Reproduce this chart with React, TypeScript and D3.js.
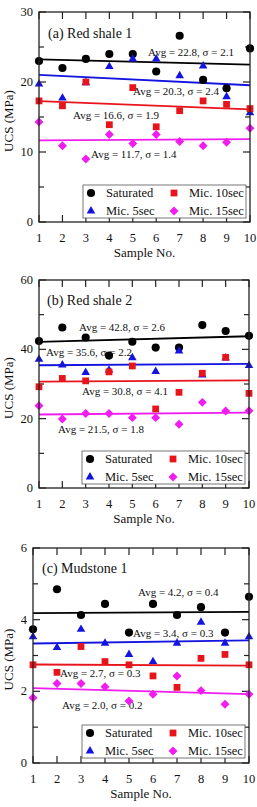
import * as d3 from "d3";

const samples = d3.range(1, 11);
const seriesNames = ["Saturated", "Mic. 5sec", "Mic. 10sec", "Mic. 15sec"];
const seriesColors = ["#000000", "#1414e0", "#e8141c", "#f01cf0"];

// (a) Red shale 1
const rs1Saturated = [23.0, 22.0, 23.3, 24.0, 24.0, 21.5, 26.6, 20.3, 19.1, 24.8];
const rs1Mic5 = [19.7, 17.7, 19.9, 22.2, 23.3, 23.3, 20.9, 22.3, 17.9, 15.6];
const rs1Mic10 = [17.3, 16.6, 20.0, 13.9, 19.2, 13.6, 15.9, 17.3, 16.8, 16.2];
const rs1Mic15 = [14.3, 10.9, 9.0, 12.5, 11.2, 12.5, 11.5, 10.9, 11.4, 13.4];
const rs1Avg = [22.8, 20.3, 16.6, 11.7];
const rs1Sd = [2.1, 2.4, 1.9, 1.4];

// (b) Red shale 2
const rs2Saturated = [42.4, 46.3, 43.4, 38.2, 42.2, 40.5, 40.5, 47.0, 45.3, 43.9];
const rs2Mic5 = [37.1, 35.5, 33.3, 34.0, 37.6, 33.6, 39.5, 32.6, 37.5, 35.3];
const rs2Mic10 = [29.2, 31.6, 30.9, 33.5, 35.2, 22.8, 27.6, 33.1, 37.7, 27.3];
const rs2Mic15 = [23.7, 19.9, 21.5, 21.5, 20.3, 20.3, 18.4, 24.7, 22.2, 22.3];
const rs2Avg = [42.8, 35.6, 30.8, 21.5];
const rs2Sd = [2.6, 2.2, 4.1, 1.8];

// (c) Mudstone 1
const mud1Saturated = [3.73, 4.85, 4.13, 4.44, 3.64, 4.44, 4.13, 4.35, 3.64, 4.64];
const mud1Mic5 = [3.52, 3.22, 3.73, 3.34, 3.03, 2.83, 3.34, 3.93, 3.34, 3.52];
const mud1Mic10 = [2.74, 2.53, 3.25, 2.83, 2.74, 2.43, 2.11, 2.92, 3.03, 2.74];
const mud1Mic15 = [1.82, 2.22, 2.22, 2.13, 1.73, 1.92, 2.43, 2.02, 1.64, 1.92];
const mud1Avg = [4.2, 3.4, 2.7, 2.0];
const mud1Sd = [0.4, 0.3, 0.3, 0.2];

type PanelDef = {
  title: string;
  yMax: number;
  yStep: number;
  series: number[][];
  avg: number[];
  sd: number[];
  box: { left: number; right: number; top: number; bottom: number };
  titlePos: [number, number];
  labelPos: [number, number][];
  legendTop: number;
};

const panels: PanelDef[] = [
  {
    title: "(a) Red shale 1",
    yMax: 30,
    yStep: 10,
    series: [rs1Saturated, rs1Mic5, rs1Mic10, rs1Mic15],
    avg: rs1Avg,
    sd: rs1Sd,
    box: { left: 39, right: 250, top: 12, bottom: 222 },
    titlePos: [48, 33],
    labelPos: [[148, 52], [133, 91], [73, 115], [91, 154]],
    legendTop: 185,
  },
  {
    title: "(b) Red shale 2",
    yMax: 60,
    yStep: 20,
    series: [rs2Saturated, rs2Mic5, rs2Mic10, rs2Mic15],
    avg: rs2Avg,
    sd: rs2Sd,
    box: { left: 39, right: 249, top: 280, bottom: 488 },
    titlePos: [47, 300],
    labelPos: [[79, 327], [46, 352], [82, 391], [58, 429]],
    legendTop: 451,
  },
  {
    title: "(c) Mudstone 1",
    yMax: 6,
    yStep: 2,
    series: [mud1Saturated, mud1Mic5, mud1Mic10, mud1Mic15],
    avg: mud1Avg,
    sd: mud1Sd,
    box: { left: 33, right: 249, top: 548, bottom: 763 },
    titlePos: [42, 568],
    labelPos: [[138, 592], [133, 633], [60, 673], [62, 705]],
    legendTop: 725,
  },
];

const serif = '"Liberation Serif", Tinos, "Times New Roman", Times, serif';

const symbolPath = [
  d3.symbol(d3.symbolCircle, 52)()!,
  d3.symbol(d3.symbolTriangle, 32)()!,
  d3.symbol(d3.symbolSquare, 46)()!,
  d3.symbol(d3.symbolSquare, 40)()!,
];

function Marker({ i, cx, cy }: { i: number; cx: number; cy: number }) {
  const rot = i === 3 ? " rotate(45)" : "";
  return (
    <path
      d={symbolPath[i]}
      transform={`translate(${cx},${cy})${rot}`}
      fill={seriesColors[i]}
    />
  );
}

// least squares line through (sample, value)
function fit(xs: number[], ys: number[]) {
  const mx = d3.mean(xs)!;
  const my = d3.mean(ys)!;
  const sxy = d3.sum(xs, (v, k) => (v - mx) * (ys[k] - my));
  const sxx = d3.sum(xs, (v) => (v - mx) ** 2);
  const b = sxy / sxx;
  return (v: number) => my + b * (v - mx);
}

function Panel({ p }: { p: PanelDef }) {
  const { left, right, top, bottom } = p.box;
  const x = d3.scaleLinear().domain([1, 10]).range([left, right]);
  const y = d3.scaleLinear().domain([0, p.yMax]).range([bottom, top]);
  const majors = d3.range(0, p.yMax + 1e-9, p.yStep);
  const minors = d3.range(p.yStep / 2, p.yMax, p.yStep);
  const line = d3
    .line<number>()
    .x((d) => x(d))
    .y((d) => d);
  const tk = 7;
  const lgLeft = right - 167;

  return (
    <g>
      {/* ticks, inward on all four sides */}
      <g stroke="#222" strokeWidth={1.2}>
        {samples.map((s) => (
          <g key={"x" + s}>
            <line x1={x(s)} x2={x(s)} y1={bottom} y2={bottom - tk} />
            <line x1={x(s)} x2={x(s)} y1={top} y2={top + tk} />
          </g>
        ))}
        {majors.map((v) => (
          <g key={"y" + v}>
            <line x1={left} x2={left + tk} y1={y(v)} y2={y(v)} />
            <line x1={right} x2={right - tk} y1={y(v)} y2={y(v)} />
          </g>
        ))}
        {minors.map((v) => (
          <g key={"m" + v}>
            <line x1={left} x2={left + 5} y1={y(v)} y2={y(v)} />
            <line x1={right} x2={right - 5} y1={y(v)} y2={y(v)} />
          </g>
        ))}
      </g>

      {/* trend lines */}
      {p.series.map((vals, i) => {
        const f = fit(samples, vals);
        return (
          <path
            key={"l" + i}
            d={line.y((d) => y(f(d)))([1, 10])!}
            stroke={seriesColors[i]}
            strokeWidth={1.8}
            fill="none"
          />
        );
      })}

      {/* average labels */}
      {p.labelPos.map(([lx, ly], i) => (
        <text key={"a" + i} x={lx} y={ly} fontSize={11} dominantBaseline="central" fill="#111">
          {`Avg = ${p.avg[i].toFixed(1)}, σ = ${p.sd[i].toFixed(1)}`}
        </text>
      ))}

      {/* data points */}
      {p.series.map((vals, i) =>
        vals.map((v, k) => (
          <Marker key={`p${i}-${k}`} i={i} cx={x(samples[k])} cy={y(v)} />
        ))
      )}

      {/* legend */}
      <rect
        x={lgLeft}
        y={p.legendTop}
        width={163}
        height={33}
        fill="#fff"
        stroke="#555"
        strokeWidth={0.8}
      />
      {seriesNames.map((name, i) => {
        const col = i === 0 || i === 1 ? 0 : 1;
        const row = i === 0 || i === 2 ? 0 : 1;
        const mx = lgLeft + 8 + col * 83;
        const my = p.legendTop + 8 + row * 18;
        return (
          <g key={"lg" + i}>
            <Marker i={i} cx={mx} cy={my} />
            <text x={mx + 15} y={my} fontSize={12.5} dominantBaseline="central" fill="#111">
              {name}
            </text>
          </g>
        );
      })}

      {/* frame */}
      <rect
        x={left}
        y={top}
        width={right - left}
        height={bottom - top}
        fill="none"
        stroke="#222"
        strokeWidth={1.3}
      />

      {/* tick labels */}
      {samples.map((s) => (
        <text key={"xl" + s} x={x(s)} y={bottom + 16} fontSize={12.5} textAnchor="middle" dominantBaseline="central" fill="#111">
          {s}
        </text>
      ))}
      {majors.map((v) => (
        <text key={"yl" + v} x={left - 6} y={y(v)} fontSize={12.5} textAnchor="end" dominantBaseline="central" fill="#111">
          {v}
        </text>
      ))}

      <text x={(left + right) / 2} y={bottom + 30} fontSize={13} textAnchor="middle" dominantBaseline="central" fill="#111">
        Sample No.
      </text>
      <text
        transform={`translate(8,${(top + bottom) / 2 + 4}) rotate(-90)`}
        fontSize={13}
        textAnchor="middle"
        dominantBaseline="central"
        fill="#111"
      >
        UCS (MPa)
      </text>
      <text x={p.titlePos[0]} y={p.titlePos[1]} fontSize={14} dominantBaseline="central" fill="#111">
        {p.title}
      </text>
    </g>
  );
}

export default function App() {
  return (
    <svg
      width={257}
      height={807}
      style={{ position: "absolute", left: 0, top: 0, background: "#fff", fontFamily: serif }}
    >
      {panels.map((p) => (
        <Panel key={p.title} p={p} />
      ))}
    </svg>
  );
}
